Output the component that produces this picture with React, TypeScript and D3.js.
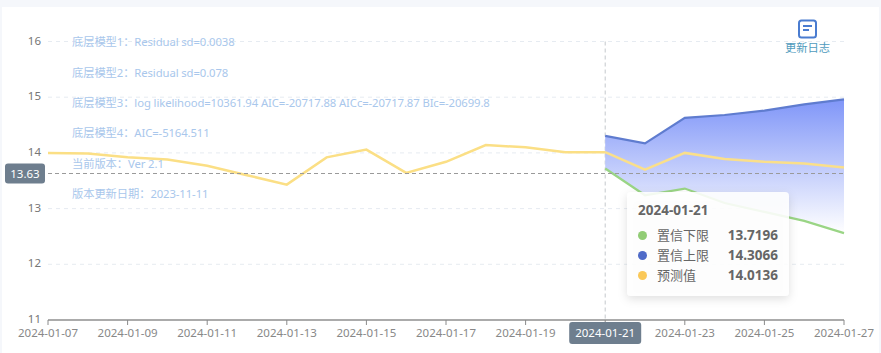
import React from "react";
import * as d3 from "d3";

const dates = ["2024-01-07","2024-01-08","2024-01-09","2024-01-10","2024-01-11","2024-01-12","2024-01-13","2024-01-14","2024-01-15","2024-01-16","2024-01-17","2024-01-18","2024-01-19","2024-01-20","2024-01-21","2024-01-22","2024-01-23","2024-01-24","2024-01-25","2024-01-26","2024-01-27"];
const forecastDates = dates.slice(14);
const history = [14.0,13.99,13.92,13.88,13.77,13.6,13.43,13.92,14.06,13.64,13.84,14.14,14.1,14.01,14.0136];
const predicted = [14.0136,13.7,14.0,13.89,13.84,13.81,13.74];
const upper = [14.3066,14.17,14.63,14.68,14.76,14.87,14.96];
const lower = [13.7196,13.24,13.36,13.1,12.94,12.78,12.56];
const yTicks = [11,12,13,14,15,16];
const xTicks = dates.filter((_, i) => i % 2 === 0);
const notes = [
  "底层模型1：Residual sd=0.0038",
  "底层模型2：Residual sd=0.078",
  "底层模型3：log likelihood=10361.94 AIC=-20717.88 AICc=-20717.87 BIc=-20699.8",
  "底层模型4：AIC=-5164.511",
  "当前版本：Ver 2.1",
  "版本更新日期：2023-11-11",
];
const noteYs = [42,72.5,103,133,163.5,194];
const markValue = 13.63;
const activeDate = "2024-01-21";
const tipRows = [
  { name: "置信下限", value: "13.7196", color: "#91cc75" },
  { name: "置信上限", value: "14.3066", color: "#4f6bc8" },
  { name: "预测值", value: "14.0136", color: "#fac858" },
];

const FONT = '"Noto Sans","Noto Sans CJK SC",sans-serif';

export default function App() {
  const x = d3.scalePoint<string>().domain(dates).range([48, 844]);
  const y = d3.scaleLinear().domain([11, 16]).range([320, 41.5]);
  const line = d3.line<[string, number]>().x(d => x(d[0])!).y(d => y(d[1]));
  const zip = (ds: string[], vs: number[]) => ds.map((d, i) => [d, vs[i]] as [string, number]);
  const area = d3.area<number>()
    .x((_, i) => x(forecastDates[i])!)
    .y0((_, i) => y(lower[i]))
    .y1(d => y(d));
  const ax = x(activeDate)!;
  const my = y(markValue);
  return (
    <svg width={881} height={353} style={{ position: "absolute", left: 0, top: 0, fontFamily: FONT }}>
      <defs>
        <linearGradient id="band" gradientUnits="userSpaceOnUse" x1="0" x2="0" y1={y(14.96)} y2={y(12.56)}>
          <stop offset="0" stopColor="#8096f8" />
          <stop offset="1" stopColor="#ffffff" />
        </linearGradient>
        <filter id="tipShadow" x="-20%" y="-20%" width="140%" height="150%">
          <feDropShadow dx="0" dy="3" stdDeviation="5" floodColor="#000" floodOpacity="0.14" />
        </filter>
      </defs>
      <rect width={881} height={353} fill="#f5f7fb" />
      <rect x={2} y={7} width={877} height={346} fill="#fff" />

      {yTicks.filter(t => t > 11).map(t => (
        <line key={t} x1={48} x2={844} y1={y(t)} y2={y(t)} stroke="#e6ebf1" strokeDasharray="4 4" />
      ))}
      {yTicks.map(t => (
        <text key={t} x={41} y={y(t) - 1} dy="0.35em" textAnchor="end" fontSize={11.5} fill="#767676">{t}</text>
      ))}

      <line x1={ax} x2={ax} y1={41.5} y2={320} stroke="#c4c8cc" strokeDasharray="4 3" />

      <path d={area(upper)!} fill="url(#band)" />
      <path d={line(zip(forecastDates, upper))!} fill="none" stroke="#5f7ccf" strokeWidth={2.2} />
      <path d={line(zip(forecastDates, lower))!} fill="none" stroke="#9ad585" strokeWidth={2.2} />
      <path d={line(zip(forecastDates, predicted))!} fill="none" stroke="#fadf8a" strokeWidth={2.5} />
      <path d={line(zip(dates.slice(0, 15), history))!} fill="none" stroke="#fbdf85" strokeWidth={2.5} />

      <line x1={48} x2={844} y1={my} y2={my} stroke="#9a9a9a" strokeDasharray="4 3" />
      <rect x={5} y={my - 10} width={40} height={20} rx={3} fill="#6e7e8e" />
      <text x={25} y={my} dy="0.36em" textAnchor="middle" fontSize={11.5} fill="#fff">{markValue}</text>

      {notes.map((n, i) => (
        <text key={n} x={72} y={noteYs[i]} dy="0.36em" fontSize={11.3} letterSpacing={-0.1} fill="#a9c7ec">{n}</text>
      ))}

      <line x1={48} x2={844} y1={320} y2={320} stroke="#ababab" strokeWidth={2} />
      {xTicks.map(t => (
        <g key={t}>
          <line x1={x(t)} x2={x(t)} y1={320} y2={325} stroke="#8a8a8a" />
          {t !== activeDate && (
            <text x={x(t)} y={332.5} dy="0.36em" textAnchor="middle" fontSize={11.5} fill="#888">{t}</text>
          )}
        </g>
      ))}
      <rect x={ax - 36} y={322} width={72} height={22} rx={3} fill="#6e7e8e" />
      <text x={ax} y={333} dy="0.36em" textAnchor="middle" fontSize={11.5} fill="#fff">{activeDate}</text>

      <g>
        <rect x={799} y={20.5} width={17} height={17} rx={2.5} fill="none" stroke="#4a7cd0" strokeWidth={2} />
        <line x1={803} x2={812} y1={26} y2={26} stroke="#4a7cd0" strokeWidth={2} />
        <line x1={803} x2={809} y1={30} y2={30} stroke="#4a7cd0" strokeWidth={2} />
        <text x={807.5} y={48} dy="0.36em" textAnchor="middle" fontSize={11.3} fill="#4f9bbd">更新日志</text>
      </g>

      <g>
        <rect x={627} y={192} width={162} height={104} rx={4} fill="#fff" fillOpacity={0.88} filter="url(#tipShadow)" />
        <text x={638} y={210} dy="0.36em" fontSize={13.5} fontWeight={700} fill="#666">{activeDate}</text>
        {tipRows.map((r, i) => {
          const ry = 235.5 + i * 20;
          return (
            <g key={r.name}>
              <circle cx={642.5} cy={ry} r={4.5} fill={r.color} />
              <text x={657} y={ry} dy="0.36em" fontSize={13} fill="#666">{r.name}</text>
              <text x={778} y={ry} dy="0.36em" textAnchor="end" fontSize={13.5} fontWeight={700} fill="#666">{r.value}</text>
            </g>
          );
        })}
      </g>
    </svg>
  );
}
